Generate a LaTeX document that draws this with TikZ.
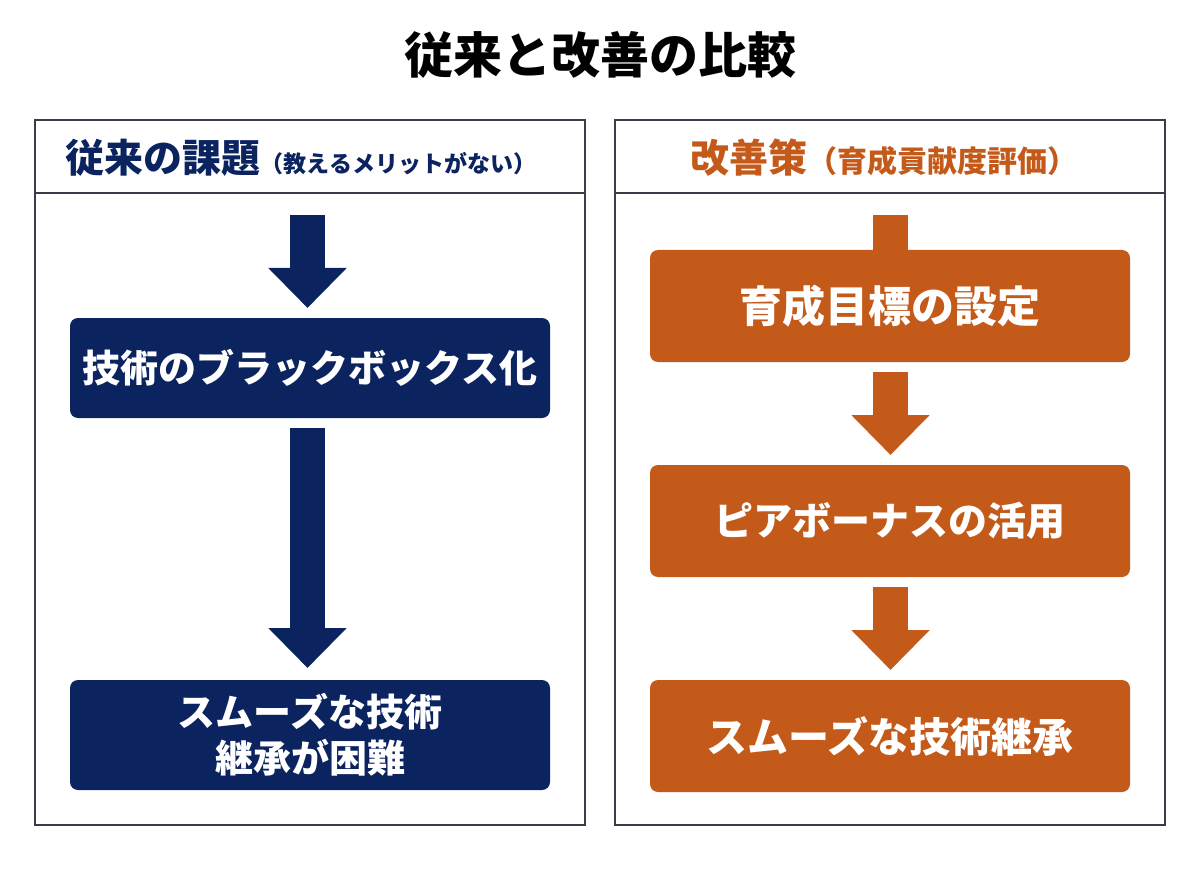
\documentclass[tikz,border=0pt]{standalone}
\usepackage{fontspec}
\setmainfont{Noto Sans CJK JP}
\usetikzlibrary{arrows.meta}
\definecolor{navy}{HTML}{0B2460}
\definecolor{rust}{HTML}{C45A1A}
\definecolor{frame}{HTML}{3A3A4A}
\tikzset{
    panel/.style={draw=frame, line width=1.5pt},
    stage/.style={rounded corners=8pt, minimum width=480pt, text=white, font=\bfseries\fontsize{38}{46}\selectfont, align=center, inner sep=0pt},
    flow/.style={line width=35pt, -{Triangle[width=76pt,length=40pt]}}
}
\begin{document}
\begin{tikzpicture}[x=1pt,y=-1pt]
    \useasboundingbox (0,0) rectangle (1200,896);
    \node (title) at (600,55) {\bfseries\fontsize{49}{56}\selectfont 従来と改善の比較};

    % left panel
    \node (lpanel) [panel, rectangle, minimum width=550pt, minimum height=705pt] at (310,472.5) {};
    \draw[panel] (35,193) -- (585,193);
    \node (lhead) at (301,158) {\color{navy}\bfseries\fontsize{39}{46}\selectfont 従来の課題\fontsize{23}{30}\selectfont（教えるメリットがない）};

    \coordinate (l0) at (307.5,215);
    \coordinate (l1) at (307.5,308);
    \coordinate (l2) at (307.5,428);
    \coordinate (l3) at (307.5,668);
    \draw[flow, navy] (l0) -- (l1);
    \draw[flow, navy] (l2) -- (l3);
    \node (lbox1) [stage, fill=navy, minimum height=100pt] at (310,368) {技術のブラックボックス化};
    \node (lbox2) [stage, fill=navy, minimum height=110pt] at (310,735) {スムーズな技術\\継承が困難};

    % right panel
    \node (rpanel) [panel, rectangle, minimum width=550pt, minimum height=705pt] at (890,472.5) {};
    \draw[panel] (615,193) -- (1165,193);
    \node (rhead) at (884,158) {\color{rust}\bfseries\fontsize{39}{46}\selectfont 改善策\fontsize{30}{36}\selectfont（育成貢献度評価）};

    \coordinate (r0) at (890.5,215);
    \coordinate (r1) at (890.5,260);
    \coordinate (r2) at (890.5,372);
    \coordinate (r3) at (890.5,455);
    \coordinate (r4) at (890.5,587);
    \coordinate (r5) at (890.5,670);
    \draw[line width=35pt, rust] (r0) -- (r1);
    \draw[flow, rust] (r2) -- (r3);
    \draw[flow, rust] (r4) -- (r5);
    \node (rbox1) [stage, fill=rust, minimum height=112pt, font=\bfseries\fontsize{43}{50}\selectfont] at (890,306) {育成目標の設定};
    \node (rbox2) [stage, fill=rust, minimum height=112pt, font=\bfseries\fontsize{39}{46}\selectfont] at (890,521) {ピアボーナスの活用};
    \node (rbox3) [stage, fill=rust, minimum height=112pt, font=\bfseries\fontsize{41}{48}\selectfont] at (890,736) {スムーズな技術継承};
\end{tikzpicture}
\end{document}
